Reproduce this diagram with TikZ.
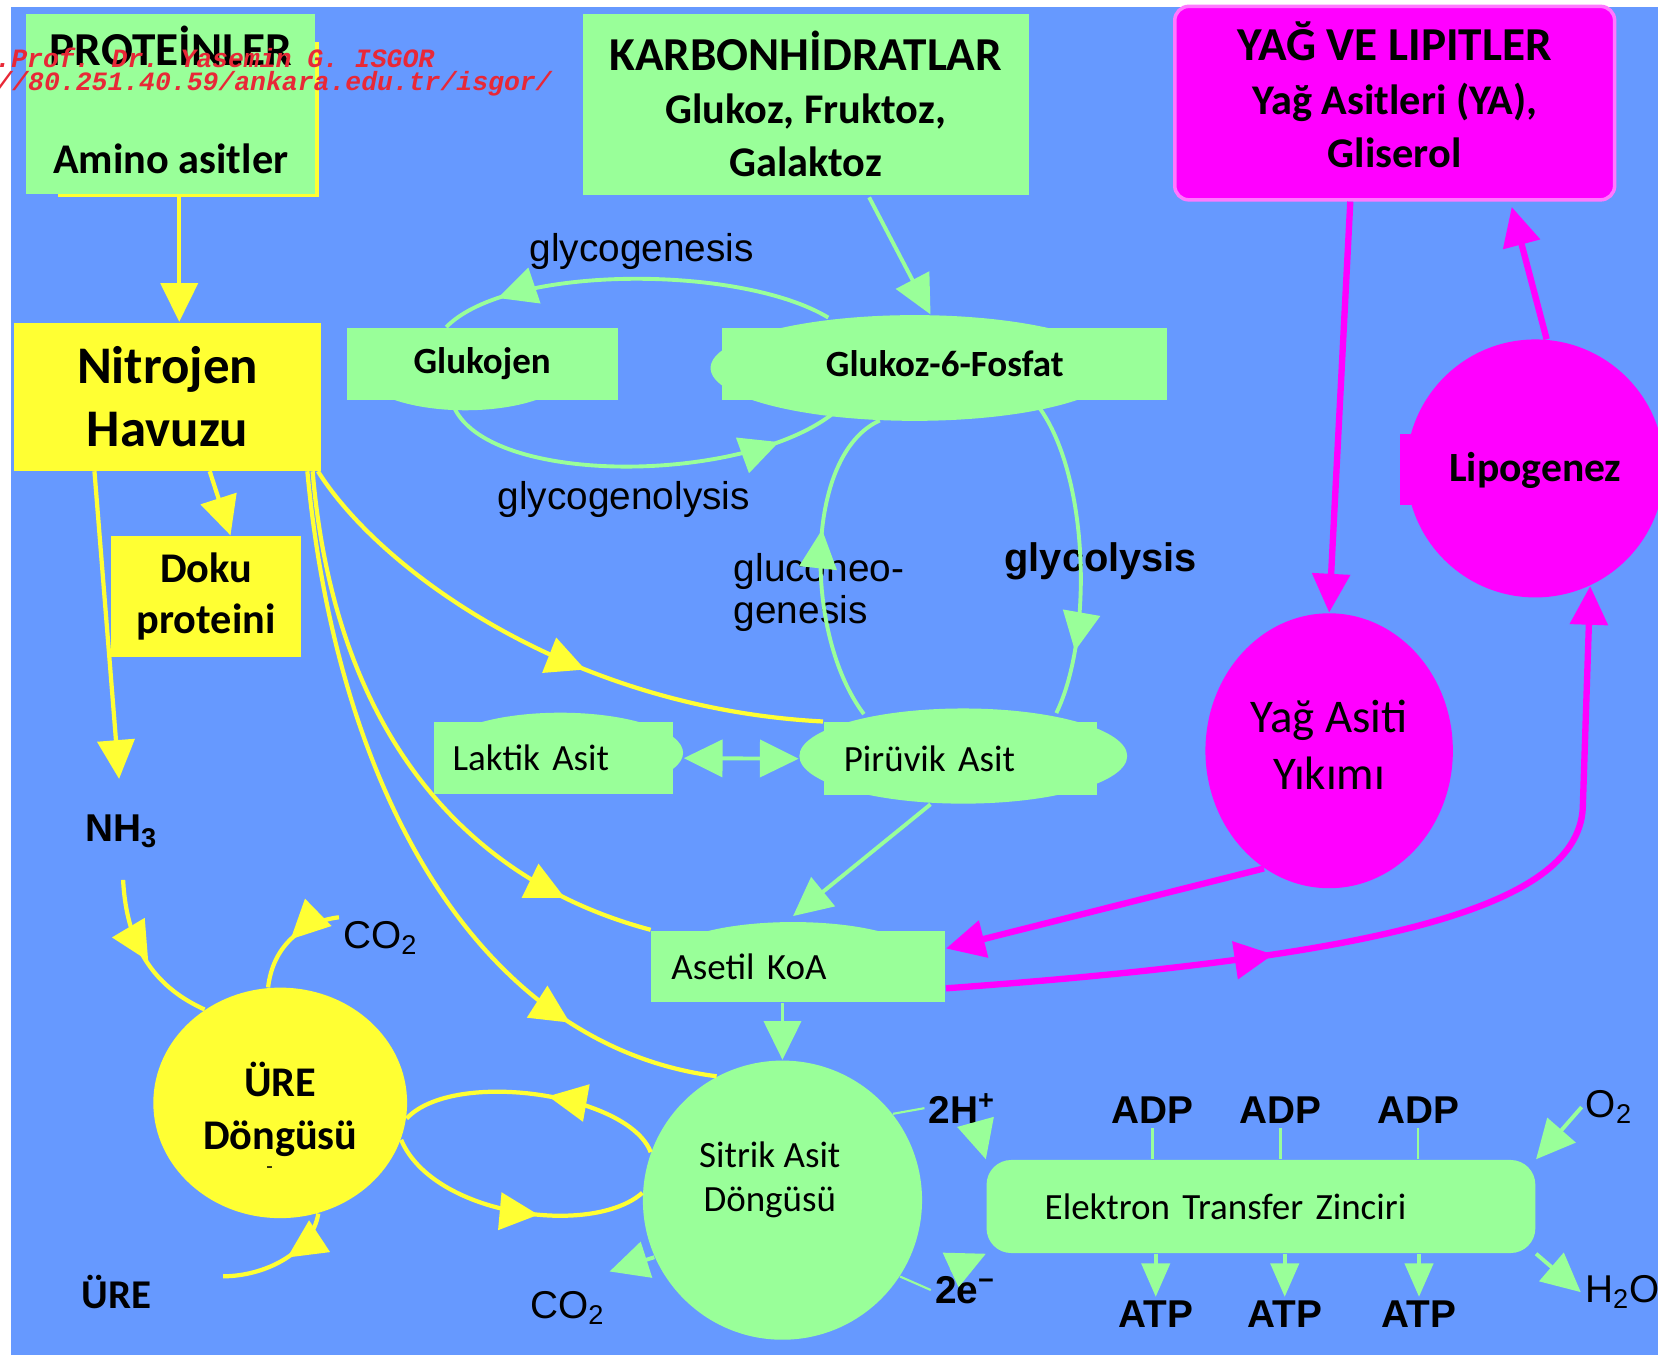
\documentclass[tikz,border=0pt]{standalone}
\usepackage{fontspec}
\setmainfont{Carlito}
\newfontfamily\pixfont{Liberation Sans}
\newfontfamily\markfont{Liberation Mono}
\usetikzlibrary{arrows.meta,calc,decorations.markings,shapes.geometric}

\definecolor{bgblue}{RGB}{102,153,255}
\definecolor{pgreen}{RGB}{153,255,153}
\definecolor{pyellow}{RGB}{255,255,51}
\definecolor{pmagenta}{RGB}{255,0,255}
\definecolor{lmagenta}{RGB}{255,120,255}
\definecolor{wmred}{RGB}{232,40,55}

\begin{document}
\begin{tikzpicture}[x=0.3pt,y=-0.3pt,
  >={Triangle[length=11pt,width=10.5pt]},
  sz/.style 2 args={minimum width=#1*0.3pt,minimum height=#2*0.3pt},
  gbox/.style={rectangle,fill=pgreen,inner sep=0pt,align=center},
  ybox/.style={rectangle,fill=pyellow,inner sep=0pt,align=center},
  mbox/.style={rectangle,fill=pmagenta,draw=lmagenta,line width=1pt,rounded corners=4pt,inner sep=0pt,align=center},
  lbox/.style={gbox,align=left,inner ysep=0pt,font=\fontsize{10.5}{12}\selectfont},
  ylw/.style={draw=pyellow,line width=1.2pt},
  grn/.style={draw=pgreen,line width=1.1pt},
  mgt/.style={draw=pmagenta,line width=1.8pt},
  marr/.style={postaction={decorate,decoration={markings,mark=at position #1 with {\arrow{>}}}}},
  pix/.style={font=\pixfont\fontsize{11}{12}\selectfont,inner sep=1pt},
  pixb/.style={font=\pixfont\bfseries\fontsize{11}{12}\selectfont,inner sep=1pt},
  wm/.style={font=\markfont\bfseries\itshape\fontsize{7.5}{8}\selectfont,text=wmred,inner sep=0pt,anchor=west}
]
  \useasboundingbox (0,0) rectangle (1568,1281);
  \fill[bgblue] (10,7) rectangle (1568,1281);

  % shadows and bulges behind the boxes
  \fill[pyellow] (55,40) rectangle (302,186);
  \fill[pgreen] (440,350) ellipse [x radius=100,y radius=38];
  \fill[pgreen] (865,348) ellipse [x radius=193,y radius=50];
  \fill[pgreen] (530,712) ellipse [x radius=116,y radius=38];
  \fill[pgreen] (911,715) ellipse [x radius=155,y radius=45];
  \fill[pgreen] (750,905) ellipse [x radius=120,y radius=33];
  \fill[pmagenta] (1324,410) rectangle (1336,478);

  % boxes
  \node[gbox,sz={273}{170},font=\bfseries\fontsize{12}{30.6}\selectfont] (prot) at (161.5,98) {{\fontsize{13.4}{30.6}\selectfont PROTEİNLER}\\Amino asitler\rule[-2pt]{0pt}{0pt}};
  \node[gbox,sz={422}{171},font=\bfseries\fontsize{12}{15}\selectfont] (karb) at (762,98.5) {{\fontsize{13.4}{15}\selectfont KARBONHİDRATLAR}\\Glukoz, Fruktoz,\\Galaktoz};
  \node[mbox,sz={416}{183},font=\bfseries\fontsize{12}{15.3}\selectfont] (yag) at (1319,97.5) {{\fontsize{13.4}{15.3}\selectfont YAĞ VE LIPITLER}\\Yağ Asitleri (YA),\\Gliserol\rule[-4.8pt]{0pt}{0pt}};
  \node[ybox,sz={291}{140},font=\bfseries\fontsize{15}{18}\selectfont] (nitro) at (158.5,375) {Nitrojen\\Havuzu};
  \node[ybox,sz={180}{114},font=\bfseries\fontsize{12}{14.4}\selectfont] (doku) at (195,564) {Doku\\proteini};
  \node[gbox,sz={256}{68},font=\bfseries\fontsize{10.5}{12}\selectfont] (glukojen) at (456,344) {Glukojen};
  \node[gbox,sz={421}{68},font=\bfseries\fontsize{10.5}{12}\selectfont] (g6p) at (893.5,344) {Glukoz-6-Fosfat};
  \node[lbox,sz={226}{68},text width=57pt,inner xsep=5.4pt] (laktik) at (523,717) {Laktik Asit};
  \node[lbox,sz={258}{69},text width=66pt,inner xsep=5.7pt] (piruvik) at (908,717.5) {Pirüvik Asit};
  \node[lbox,sz={278}{68},text width=72pt,inner xsep=5.7pt] (asetil) at (755,914) {Asetil KoA};
  \node[lbox,sz={519}{88},text width=122.7pt,inner xsep=16.5pt,rounded corners=7pt] (etc) at (1192.5,1141) {Elektron Transfer Zinciri};

  % cycles
  \node[ellipse,fill=pyellow,inner sep=0pt,sz={240}{218},align=center,font=\bfseries\fontsize{12}{15}\selectfont] (ure) at (265,1043) {\rule{0pt}{13.5pt}ÜRE\\Döngüsü};
  \node[font=\fontsize{6}{6}\selectfont,inner sep=0pt] (uredash) at (255,1107) {-};
  \node[circle,fill=pgreen,inner sep=0pt,minimum size=264*0.3pt] (sitrik) at (740,1135) {};
  \node[align=center,font=\fontsize{10.5}{12.6}\selectfont] (sitriktxt) at (728,1116) {Sitrik Asit\\Döngüsü};
  \node[ellipse,fill=pmagenta,inner sep=0pt,sz={234}{260},align=center,font=\fontsize{13.3}{16.2}\selectfont] (yikim) at (1257,710) {Yağ Asiti\\Yıkımı\rule[-3.6pt]{0pt}{0pt}};
  \node[circle,fill=pmagenta,inner sep=0pt,minimum size=244*0.3pt,font=\bfseries\fontsize{11.8}{14}\selectfont] (lipo) at (1452,443) {\rule{0pt}{9.5pt}Lipogenez};

  % small labels
  \node[pix] (glygen) at (607,238) {glycogenesis};
  \node[pix] (glylys) at (590,472) {glycogenolysis};
  \node[pix,align=left,anchor=west] (gneo) at (690,560) {gluconeo-\\genesis};
  \node[pixb,font=\pixfont\bfseries\fontsize{11.3}{12}\selectfont] (glycol) at (1041,531) {glycolysis};
  \node[pixb] (nh3) at (115,786) {NH\textsubscript{3}};
  \node[pix] (co2a) at (360,887) {CO\textsubscript{2}};
  \node[font=\bfseries\fontsize{11.6}{14}\selectfont,inner sep=1pt] (ureout) at (110,1222) {ÜRE};
  \node[pix] (co2b) at (537,1237) {CO\textsubscript{2}};
  \node[pixb] (h2) at (910,1048) {2H\textsuperscript{+}};
  \node[pixb] (e2) at (913,1220) {2e\textsuperscript{−}};
  \foreach \n/\x in {1/1090,2/1211,3/1341}
    \node[pixb] (adp\n) at (\x,1050) {ADP};
  \foreach \n/\x in {1/1093,2/1215,3/1342}
    \node[pixb] (atp\n) at (\x,1243) {ATP};
  \node[pix] (o2) at (1522,1047) {O\textsubscript{2}};
  \node[pix,anchor=west] (h2o) at (1495,1222) {H\textsubscript{2}O};

  % nitrogen side
  \draw[ylw,->] ($(prot.south)+(8,0)$) -- ($(nitro.north)+(11,0)$);
  \draw[ylw,->,shorten >=9pt] ($(nitro.south west)+(77,0)$) -- (nh3.north);
  \draw[ylw,->] ($(nitro.south west)+(186,0)$) -- ($(doku.north)+(23,0)$);
  \draw[ylw,marr=0.58] ($(nitro.south east)+(-4,0)$) .. controls (360,540) and (540,670) .. (piruvik.north west);
  \draw[ylw,marr=0.85] ($(nitro.south east)+(-9,0)$) .. controls (315,680) and (430,830) .. (asetil.north west);
  \draw[ylw,marr=0.8] ($(nitro.south east)+(-14,0)$) .. controls (320,760) and (460,990) .. (sitrik.118);

  % urea cycle
  \draw[ylw,marr=0.6,shorten <=8pt] (nh3.south) .. controls (120,900) and (150,935) .. (ure.129);
  \draw[ylw,marr=0.5] (co2a.north west) .. controls (285,872) and (258,895) .. (ure.96);
  \draw[ylw,marr=0.45] (ure.-71) .. controls (295,1185) and (250,1207) .. ($(ureout.east)+(64,-15)$);
  \draw[ylw,marr=0.6] (ure.-17) .. controls (410,1150) and (560,1170) .. (sitrik.177);
  \draw[ylw,marr=0.45] (sitrik.160) .. controls (595,1035) and (430,1010) .. (ure.-7);

  % carbohydrates
  \draw[grn,->] ($(karb.south)+(60,2)$) -- ($(g6p.north)+(-13.5,-12)$);
  \draw[grn,marr=0.85] ($(g6p.north west)+(101,-9)$) .. controls (700,250) and (480,250) .. ($(glukojen.north)+(-34,0)$);
  \draw[grn,marr=0.85] ($(glukojen.south)+(-29,0)$) .. controls (450,460) and (700,460) .. ($(g6p.south west)+(106,12)$);
  \draw[grn,marr=0.8] ($(g6p.south)+(84,0)$) .. controls (1030,440) and (1035,600) .. ($(piruvik.north)+(91,-8)$);
  \draw[grn,marr=0.6] ($(piruvik.north)+(-91,-7)$) .. controls (760,600) and (760,430) .. ($(g6p.south)+(-61.5,19)$);
  \draw[grn,<->] ($(laktik.east)+(10,0)$) -- ($(piruvik.west)+(-23,0)$);
  \draw[grn,->] ($(piruvik.south)+(-28,8)$) -- ($(asetil.north)+(-5,-13)$);
  \draw[grn,->] ($(asetil.south)+(-15,0)$) -- (sitrik.north);
  \draw[grn,->] (sitrik.204) -- ($(co2b.north east)+(0,-15)$);

  % electron transfer
  \draw[grn,line width=0.6pt] (sitrik.38) -- (h2.west);
  \draw[grn,->] ($(h2.south)+(14,0)$) -- (etc.north west);
  \draw[grn,line width=0.6pt] (sitrik.-33) -- (e2.west);
  \draw[grn,->] ($(e2.north)+(-14,-2)$) -- (etc.south west);
  \foreach \n in {1,2,3} {
    \draw[grn,line width=0.8pt] (adp\n.south) -- (adp\n.south |- etc.north);
    \draw[grn,-{Triangle[length=9.5pt,width=8pt]}] (atp\n.north |- etc.south) -- (atp\n.north);
  }
  \draw[grn,->] (o2.west) -- (etc.north east);
  \draw[grn,->] (etc.south east) -- (h2o.west);

  % fats
  \draw[mgt,->] ($(yag.south)+(-42,0)$) -- (yikim.north);
  \draw[mgt,->] (lipo.85) -- ($(yag.south east)+(-99,5)$);
  \draw[mgt,->,marr=0.36] ($(asetil.south east)+(0,-14)$) .. controls (1300,905) and (1497,860) .. (1497,760) -- (lipo.-65);
  \draw[mgt,->] (yikim.241) -- ($(asetil.east)+(0,-17)$);

  % watermark
  \node[wm] (wm1) at (-5,55) {.Prof. Dr. Yasemin G. ISGOR};
  \node[wm] (wm2) at (-4,79) {//80.251.40.59/ankara.edu.tr/isgor/};
\end{tikzpicture}
\end{document}
